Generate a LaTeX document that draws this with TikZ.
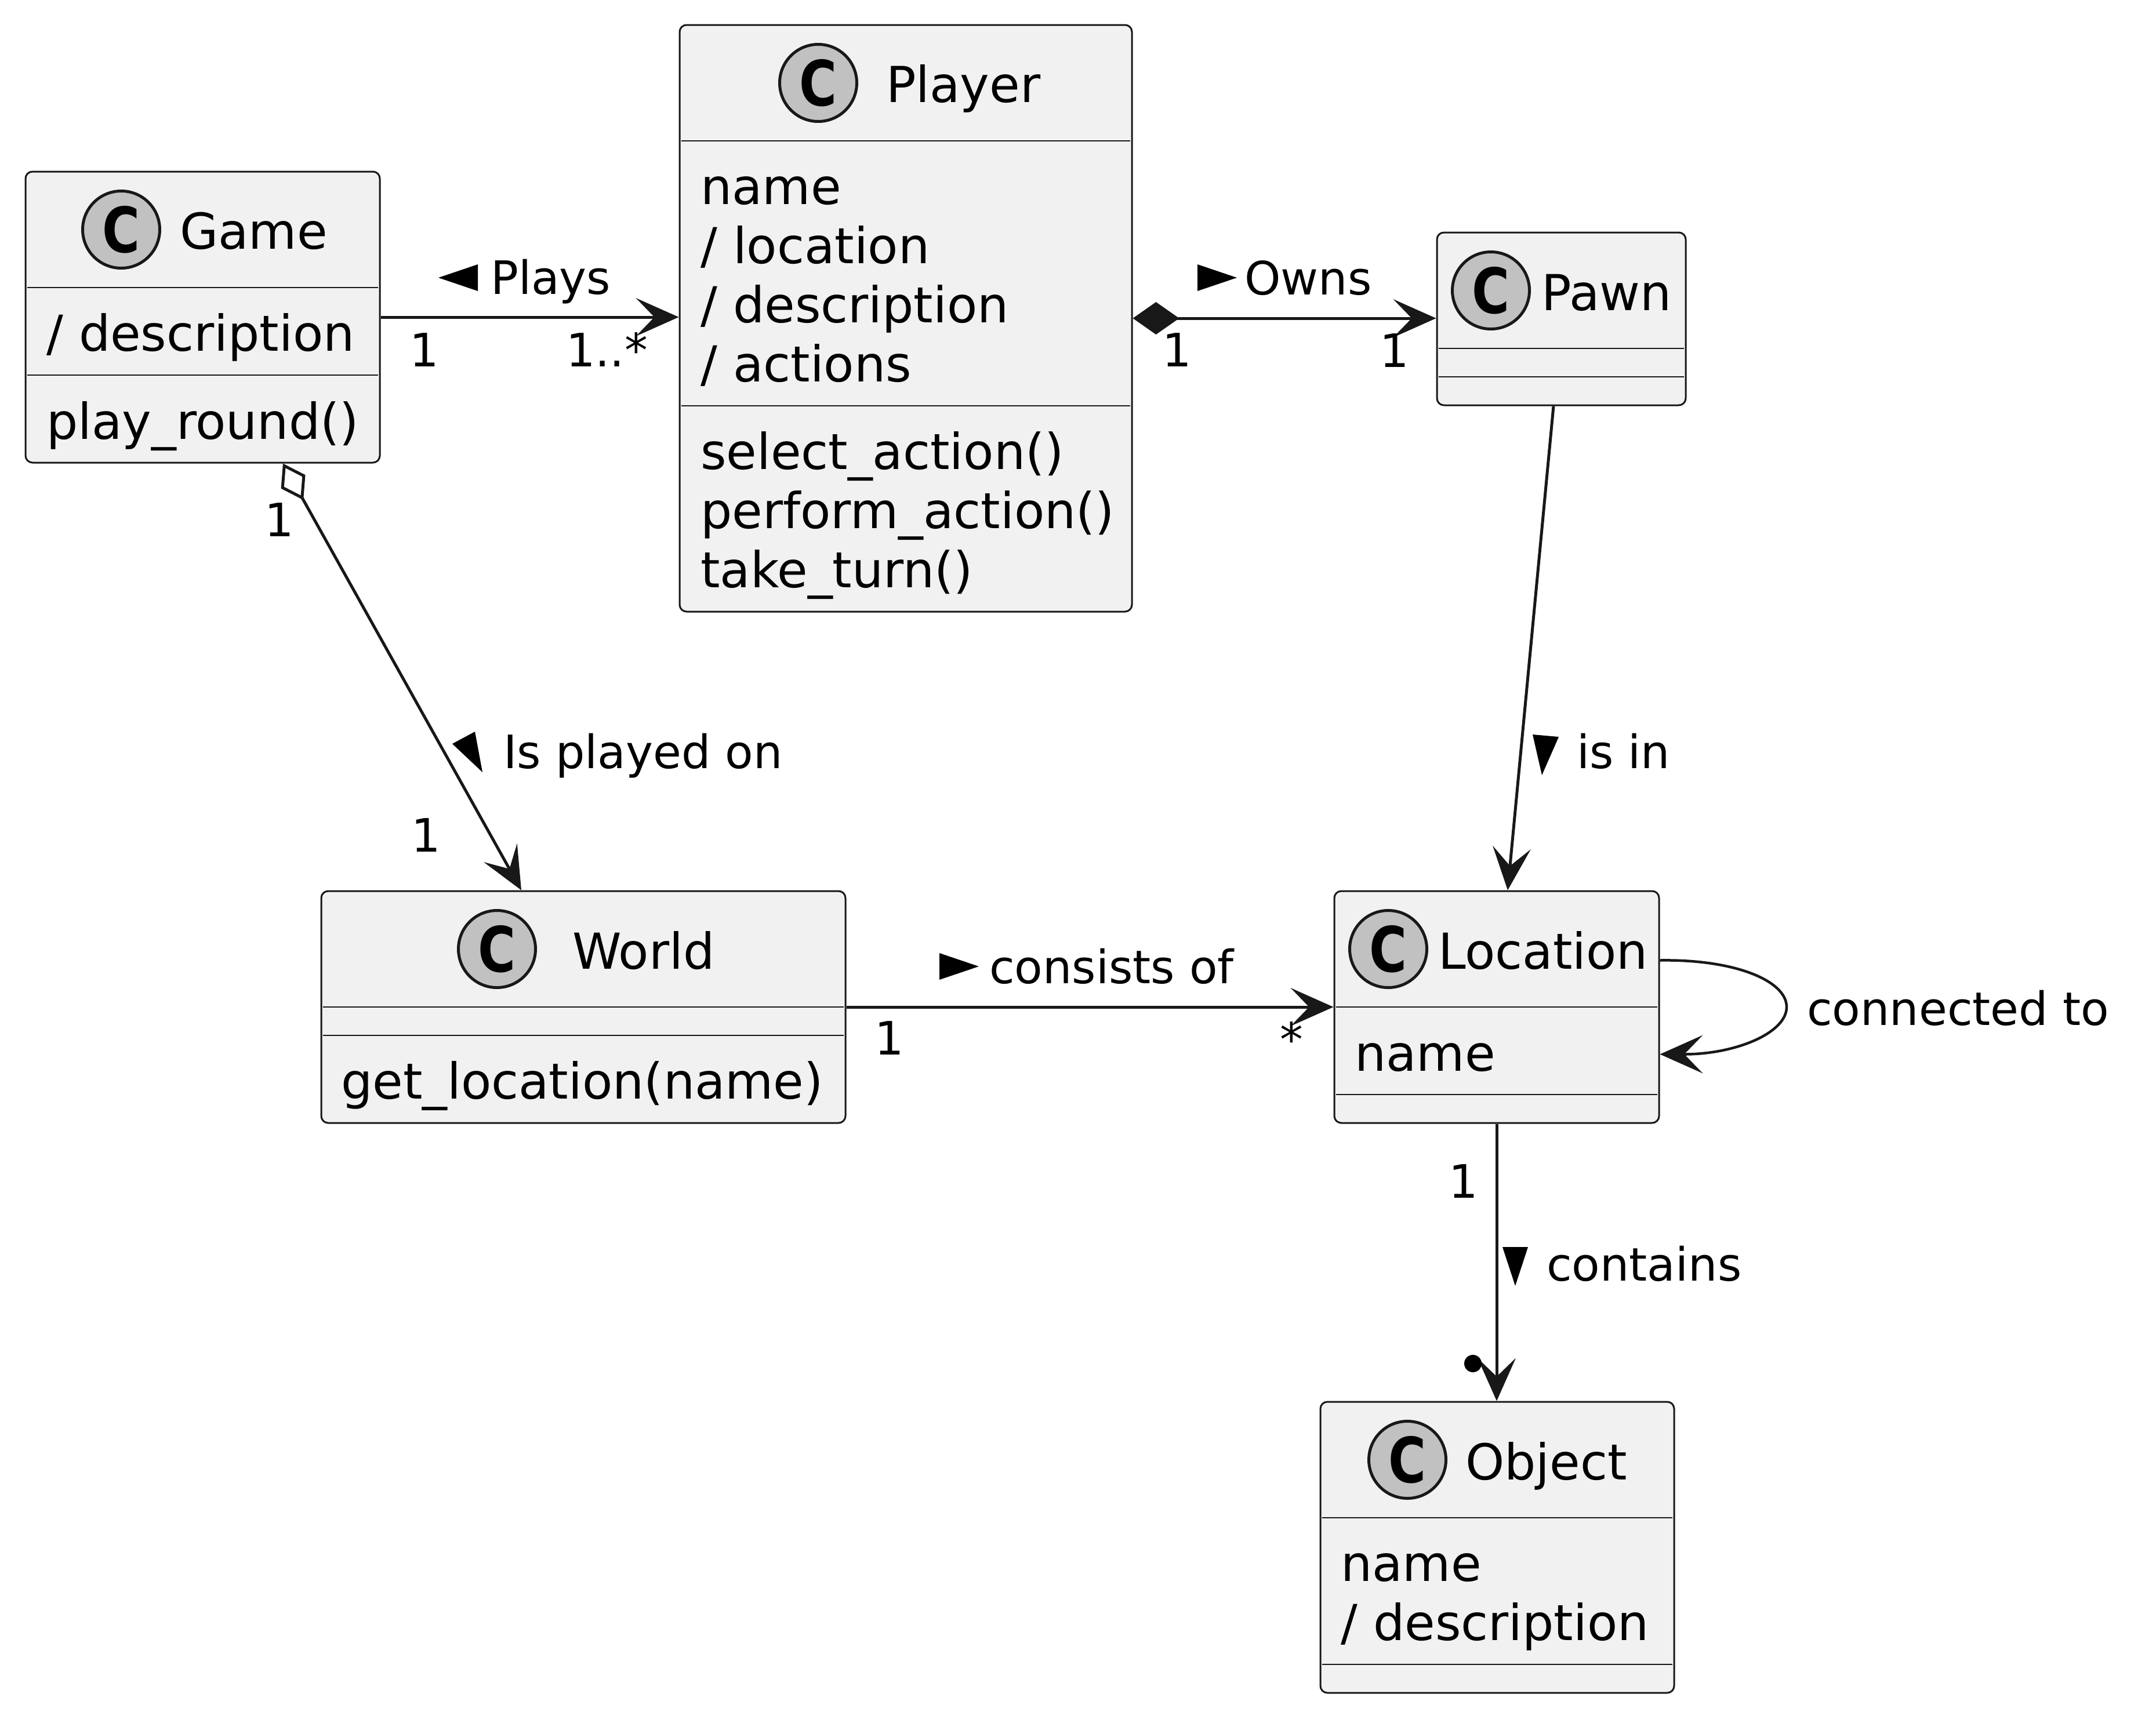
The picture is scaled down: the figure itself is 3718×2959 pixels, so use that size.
\documentclass[tikz,border=0pt]{standalone}
\usepackage{fontspec}
\usepackage{graphicx}
\setmainfont{DejaVu Sans}
\usetikzlibrary{arrows.meta}
\definecolor{boxfill}{HTML}{F1F1F1}
\definecolor{ink}{HTML}{181818}
\definecolor{spotgray}{HTML}{C1C1C1}
\newcommand{\spotC}{\scalebox{0.82}[1]{C}}
\begin{document}
\begin{tikzpicture}[x=1pt,y=-1pt,
  classbox/.style={draw=ink, fill=boxfill, line width=3pt, rounded corners=12pt, inner sep=0pt},
  sepline/.style={draw=ink, line width=2.6pt},
  spot/.style={circle, draw=ink, fill=spotgray, line width=5pt, minimum size=133pt, inner sep=0pt, font=\fontsize{108}{108}\selectfont\bfseries},
  member/.style={anchor=base west, inner sep=0pt, font=\fontsize{85.5}{102}\selectfont},
  lbl/.style={anchor=base west, inner sep=0pt, font=\fontsize{79.4}{95}\selectfont},
  mult/.style={anchor=base, inner sep=0pt, font=\fontsize{79.4}{95}\selectfont},
  conn/.style={draw=ink, line width=5pt},
  arrowto/.style={-{Stealth[length=74pt,width=66pt,inset=32pt,line width=0pt]}},
  tri/.style={fill=black}
]
\fill[white] (0,0) rectangle (3718,2959);
\useasboundingbox (0,0) rectangle (3718,2959);

% ---------- Game ----------
\node[classbox, minimum width=611pt, minimum height=502pt] (game) at (349.5,547) {};
\draw[sepline] (47,496) -- (652,496);
\draw[sepline] (47,647) -- (652,647);
\node[spot] (gameC) at (209,396) {\spotC};
\node[member] (gameN) at (310,429) {Game};
\node[member] (gameA1) at (80,605) {/ description};
\node[member] (gameM1) at (80,757) {play\_round()};

% ---------- Player ----------
\node[classbox, minimum width=780pt, minimum height=1012pt] (player) at (1562,549) {};
\draw[sepline] (1175,243) -- (1949,243);
\draw[sepline] (1175,700) -- (1949,700);
\node[spot] (playerC) at (1411,143) {\spotC};
\node[member] (playerN) at (1528,176) {Player};
\node[member] (playerA1) at (1208,352) {name};
\node[member] (playerA2) at (1208,454) {/ location};
\node[member] (playerA3) at (1208,556) {/ description};
\node[member] (playerA4) at (1208,658) {/ actions};
\node[member] (playerM1) at (1208,809) {select\_action()};
\node[member] (playerM2) at (1208,911) {perform\_action()};
\node[member] (playerM3) at (1208,1013) {take\_turn()};

% ---------- Pawn ----------
\node[classbox, minimum width=429pt, minimum height=298pt] (pawn) at (2692.5,550) {};
\draw[sepline] (2481,601) -- (2904,601);
\draw[sepline] (2481,650) -- (2904,650);
\node[spot] (pawnC) at (2571,501) {\spotC};
\node[member] (pawnN) at (2658,535) {Pawn};

% ---------- World ----------
\node[classbox, minimum width=904pt, minimum height=400pt] (world) at (1006,1737) {};
\draw[sepline] (557,1737) -- (1455,1737);
\draw[sepline] (557,1786) -- (1455,1786);
\node[spot] (worldC) at (857,1637) {\spotC};
\node[member] (worldN) at (987,1671) {World};
\node[member] (worldM1) at (588,1895) {get\_location(name)};

% ---------- Location ----------
\node[classbox, minimum width=560pt, minimum height=400pt] (location) at (2581,1737) {};
\draw[sepline] (2304,1737) -- (2858,1737);
\draw[sepline] (2304,1888) -- (2858,1888);
\node[spot] (locationC) at (2394,1637) {\spotC};
\node[member] (locationN) at (2480,1671) {Location};
\node[member] (locationA1) at (2336,1847) {name};

% ---------- Object ----------
\node[classbox, minimum width=610pt, minimum height=502pt] (object) at (2582,2669) {};
\draw[sepline] (2280,2618) -- (2884,2618);
\draw[sepline] (2280,2871) -- (2884,2871);
\node[spot] (objectC) at (2427,2518) {\spotC};
\node[member] (objectN) at (2527,2552) {Object};
\node[member] (objectA1) at (2312,2727) {name};
\node[member] (objectA2) at (2312,2829) {/ description};

% ---------- Game -> Player : Plays ----------
\draw[conn, arrowto] (game.east) -- (game.east -| player.west);
\fill[tri] (756,479) -- (824,456) -- (824,502) -- cycle;
\node[lbl] (lPlays) at (846,507) {Plays};
\node[mult] (mPlays1) at (732,632) {1};
\node[lbl] (mPlays2) at (976,632) {1..*};

% ---------- Player -> Pawn : Owns ----------
\draw[conn, {Diamond[length=80pt,width=56pt,line width=0pt]}-{Stealth[length=74pt,width=66pt,inset=32pt,line width=0pt]}]
  (player.east) -- (player.east -| pawn.west);
\fill[tri] (2133,479) -- (2065,456) -- (2065,502) -- cycle;
\node[lbl] (lOwns) at (2146,508) {Owns};
\node[mult] (mOwns1) at (2030,632) {1};
\node[mult] (mOwns2) at (2405,633) {1};

% ---------- Game -> World : Is played on ----------
\draw[conn, {Diamond[open,length=72pt,width=48pt]}-{Stealth[length=74pt,width=66pt,inset=32pt,line width=0pt]}]
  ([xshift=138.5pt]game.south) -- ([xshift=-107pt]world.north);
\fill[tri] (780,1283) -- (819,1262) -- (832,1332) -- cycle;
\node[lbl] (lPlayed) at (868,1325) {Is played on};
\node[mult] (mPlayed1) at (482,925) {1};
\node[mult] (mPlayed2) at (735,1469) {1};

% ---------- Pawn -> Location : is in ----------
\draw[conn, arrowto] ([xshift=-13.5pt]pawn.south) -- ([xshift=19pt]location.north);
\fill[tri] (2643,1267) -- (2688,1271) -- (2659,1337) -- cycle;
\node[lbl] (lIsIn) at (2719,1325) {is in};

% ---------- World -> Location : consists of ----------
\draw[conn, arrowto] (world.east) -- (world.east -| location.west);
\fill[tri] (1620,1644) -- (1620,1690) -- (1688,1667) -- cycle;
\node[lbl] (lConsists) at (1706,1696) {consists of};
\node[mult] (mCons1) at (1534,1819) {1};
\node[mult] (mCons2) at (2227,1821) {*};

% ---------- Location self loop : connected to ----------
\coordinate (loopA) at ([yshift=80.5pt]location.east);
\coordinate (loopB) at ([yshift=-81.5pt]location.east);
\coordinate (loopM) at (3081,1737);
\draw[conn, line width=4.5pt, arrowto] (loopA) .. controls +(130pt,2pt) and +(0pt,45pt) .. (loopM)
  .. controls +(0pt,-45pt) and +(130pt,0pt) .. (loopB);
\node[lbl] (lConnected) at (3116,1768) {connected to};

% ---------- Location -> Object : contains ----------
\draw[conn, arrowto] (location.south) -- (location.south |- object.north);
\fill[tri] (2591,2151) -- (2635,2151) -- (2613,2218) -- cycle;
\node[lbl] (lContains) at (2667,2209) {contains};
\node[mult] (mCont1) at (2524,2066) {1};
\node[circle, fill=black, inner sep=0pt, minimum size=30pt] (mCont2) at (2540,2352) {};

\end{tikzpicture}
\end{document}
